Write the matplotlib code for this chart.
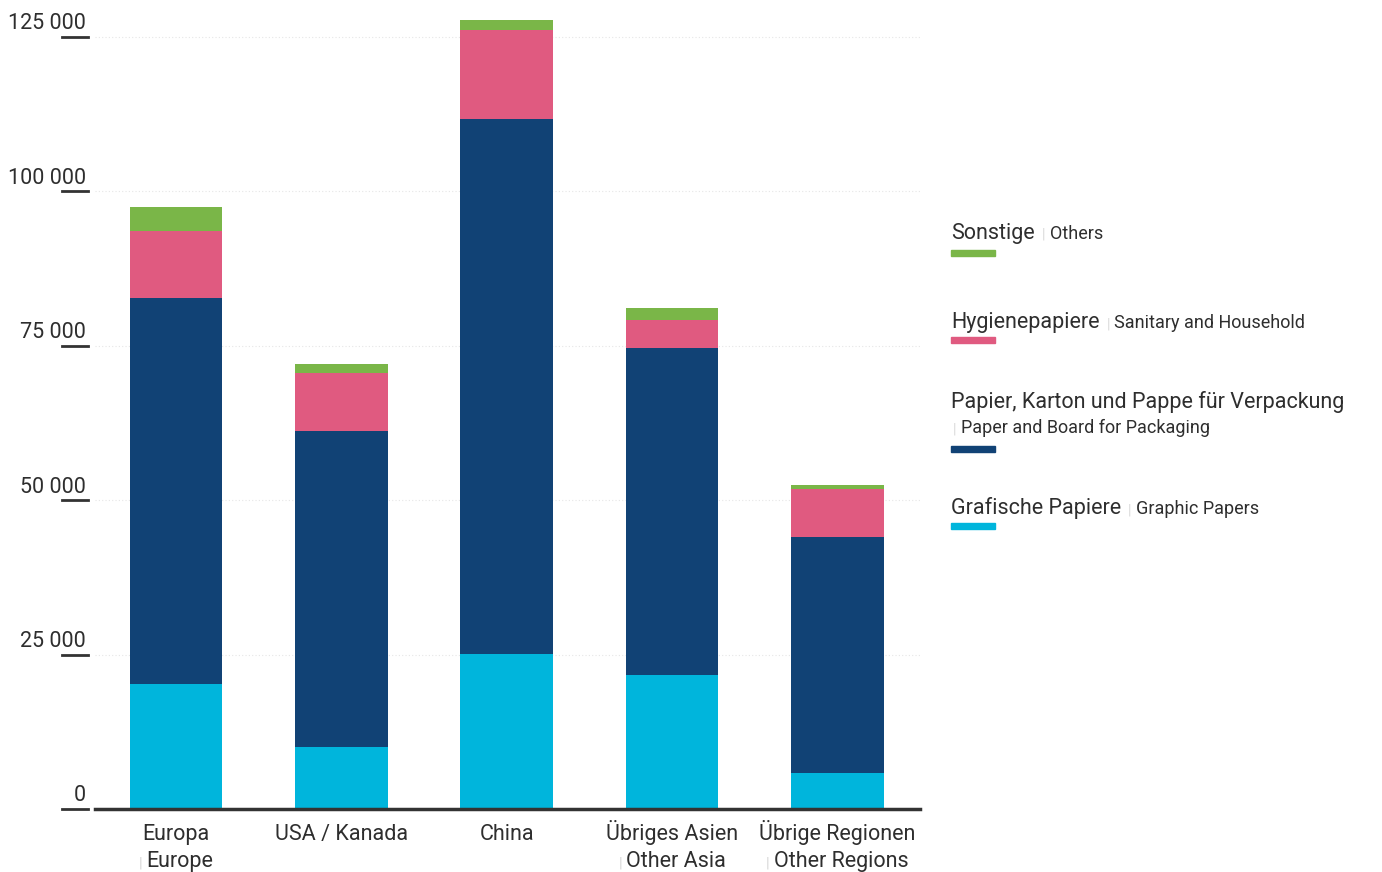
import matplotlib
matplotlib.use('Agg')
import numpy as np
import matplotlib.pyplot as plt

regions_de = ['Europa', 'USA / Kanada', 'China', 'Übriges Asien', 'Übrige Regionen']
regions_en = ['Europe', '', '', 'Other Asia', 'Other Regions']
graphic   = [20200, 10000, 25100, 21700, 5800]
packaging = [62600, 51200, 86600, 52900, 38200]
sanitary  = [10700, 9400, 14400, 4600, 7800]
others    = [3900, 1500, 1600, 1900, 700]
yticks = [0, 25000, 50000, 75000, 100000, 125000]

series = [('Grafische Papiere', 'Graphic Papers', graphic, '#00b5dc'),
          ('Papier, Karton und Pappe für Verpackung', 'Paper and Board for Packaging', packaging, '#114275'),
          ('Hygienepapiere', 'Sanitary and Household', sanitary, '#e05a80'),
          ('Sonstige', 'Others', others, '#7ab648')]

plt.rcParams['font.family'] = ['Roboto', 'DejaVu Sans']
txt = '#2e2e2e'
sepc = '#d8d8d8'
big = 15.5
small = 13

fig = plt.figure(figsize=(13.82, 8.72), dpi=100)
ax = fig.add_axes([95/1382, 1-809/872, 825/1382, (809-6)/872])
x = np.arange(len(regions_de))
bottom = np.zeros(len(x))
for de, en, vals, c in series:
    ax.bar(x, vals, width=0.56, bottom=bottom, color=c, zorder=3)
    bottom += np.array(vals)

ax.set_xlim(-0.49, 4.5)
ax.set_ylim(0, 130000)
for s in ax.spines.values():
    s.set_visible(False)
ax.set_xticks([])
ax.set_yticks([])
ax.axhline(0, color='#333333', lw=2.5, zorder=4, clip_on=False)
yt = ax.get_yaxis_transform()
for v in yticks:
    if v > 0:
        ax.axhline(v, color='#e6e6e6', lw=0.8, ls=(0, (1, 2)), zorder=1)
    ax.plot([-0.040, -0.0085], [v, v], color='#333333', lw=2, transform=yt, clip_on=False)
    ax.annotate(f'{v:,}'.replace(',', ' '), xy=(-0.011, v), xycoords=yt, xytext=(0, 5.5),
                textcoords='offset points', ha='right', va='baseline', fontsize=big, color=txt)

fig.canvas.draw()
r = fig.canvas.get_renderer()

def width_px(s, size):
    t = fig.text(0, 0, s, fontsize=size)
    w = t.get_window_extent(r).width
    t.remove()
    return w

# x labels
xd = ax.transData
for i, (de, en) in enumerate(zip(regions_de, regions_en)):
    px = xd.transform((i, 0))[0]
    fig.text(px / 1382, 1 - 840/872, de, ha='center', va='baseline', fontsize=big, color=txt)
    if en:
        we = width_px(en, big)
        ws = width_px('|', 11) + 4
        start = px - (we + ws) / 2
        fig.text(start / 1382, 1 - 867/872, '|', fontsize=11, color=sepc, va='baseline')
        fig.text((start + ws) / 1382, 1 - 867/872, en, fontsize=big, color=txt, va='baseline')

# legend
legend = [('Sonstige', 'Others', '#7ab648', 239, None, 250),
          ('Hygienepapiere', 'Sanitary and Household', '#e05a80', 328, None, 337),
          ('Papier, Karton und Pappe für Verpackung', 'Paper and Board for Packaging', '#114275', 408, 433, 446),
          ('Grafische Papiere', 'Graphic Papers', '#00b5dc', 514, None, 523)]
lx = 951
for de, en, c, yb, y2, ybar in legend:
    fig.text(lx / 1382, 1 - yb/872, de, fontsize=big, color=txt, va='baseline')
    if y2 is None:
        w = width_px(de, big)
        sx = lx + w + 7
        ey = yb
    else:
        sx = lx + 2
        ey = y2
    fig.text(sx / 1382, 1 - ey/872, '|', fontsize=10, color=sepc, va='baseline')
    fig.text((sx + 8) / 1382, 1 - ey/872, en, fontsize=small, color=txt, va='baseline')
    fig.patches.append(plt.Rectangle((lx / 1382, 1 - (ybar + 6)/872), 44/1382, 6/872,
                                     transform=fig.transFigure, color=c, figure=fig))

fig.savefig('out.png', dpi=100)
